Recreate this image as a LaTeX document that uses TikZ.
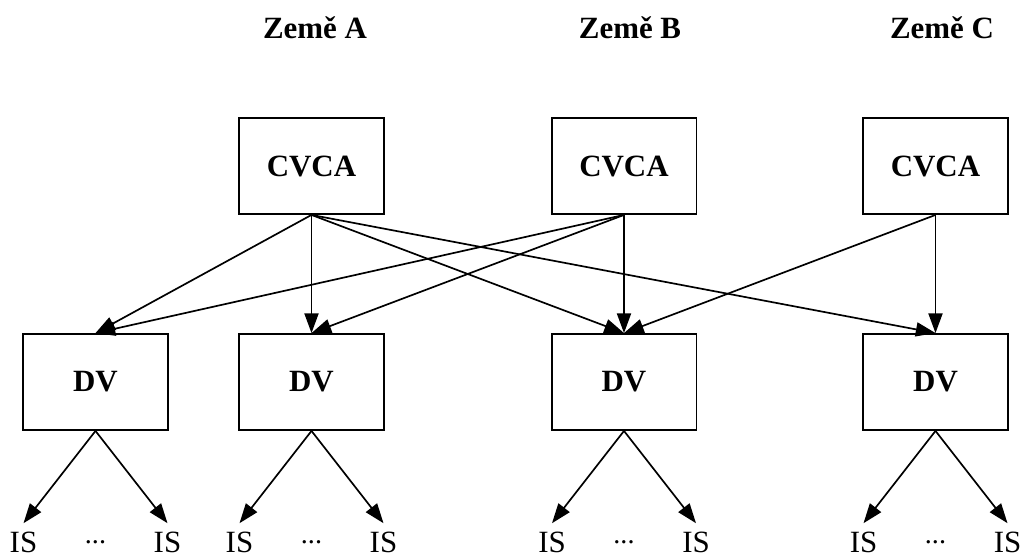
\documentclass[tikz,border=0pt]{standalone}
\usepackage{fontspec}
\setmainfont{Liberation Serif}
\usetikzlibrary{arrows.meta}
\begin{document}
\begin{tikzpicture}[x=0.025cm, y=-0.025cm,
  box/.style={draw, line width=1.3pt, minimum width=3.62cm, minimum height=2.4cm,
    inner sep=0pt, font=\fontsize{22}{26}\selectfont\bfseries},
  title/.style={font=\fontsize{22}{26}\selectfont\bfseries, inner sep=0pt},
  leaf/.style={font=\fontsize{22}{26}\selectfont, inner sep=5.7pt, anchor=base},
  dots/.style={font=\fontsize{20}{24}\selectfont, inner sep=0pt},
  link/.style={line width=1.2pt, -{Triangle[length=14pt, width=10pt]}}]
\useasboundingbox (0,0) rectangle (1021,557);

% country headings
\node[title] (tA) at (315,28) {Země A};
\node[title] (tB) at (630,28) {Země B};
\node[title] (tC) at (942,28) {Země C};

% root certificate authorities
\node[box] (cA) at (311.5,166) {CVCA};
\node[box] (cB) at (624,166) {CVCA};
\node[box] (cC) at (935.5,166) {CVCA};

% document verifiers
\node[box] (d1) at (95.5,382) {DV};
\node[box] (d2) at (311.5,382) {DV};
\node[box] (d3) at (624,382) {DV};
\node[box] (d4) at (935.5,382) {DV};

% certification links
\draw[link] (cA.south) -- (d1.north);
\draw[link] (cA.south) -- (d2.north);
\draw[link] (cA.south) -- (d3.north);
\draw[link] (cA.south) -- (d4.north);
\draw[link] (cB.south) -- (d1.north);
\draw[link] (cB.south) -- (d2.north);
\draw[link] (cB.south) -- (d3.north);
\draw[link] (cC.south) -- (d3.north);
\draw[link] (cC.south) -- (d4.north);

% inspection systems below each DV
\foreach \d/\x in {d1/95.5, d2/311.5, d3/624, d4/935.5} {
  \node[leaf] (\d l) at (\x-72,552) {IS};
  \node[leaf] (\d r) at (\x+72,552) {IS};
  \node[dots] (\d m) at (\x,542) {...};
  \draw[link] (\d.south) -- (\d l.north);
  \draw[link] (\d.south) -- (\d r.north);
}
\end{tikzpicture}
\end{document}
